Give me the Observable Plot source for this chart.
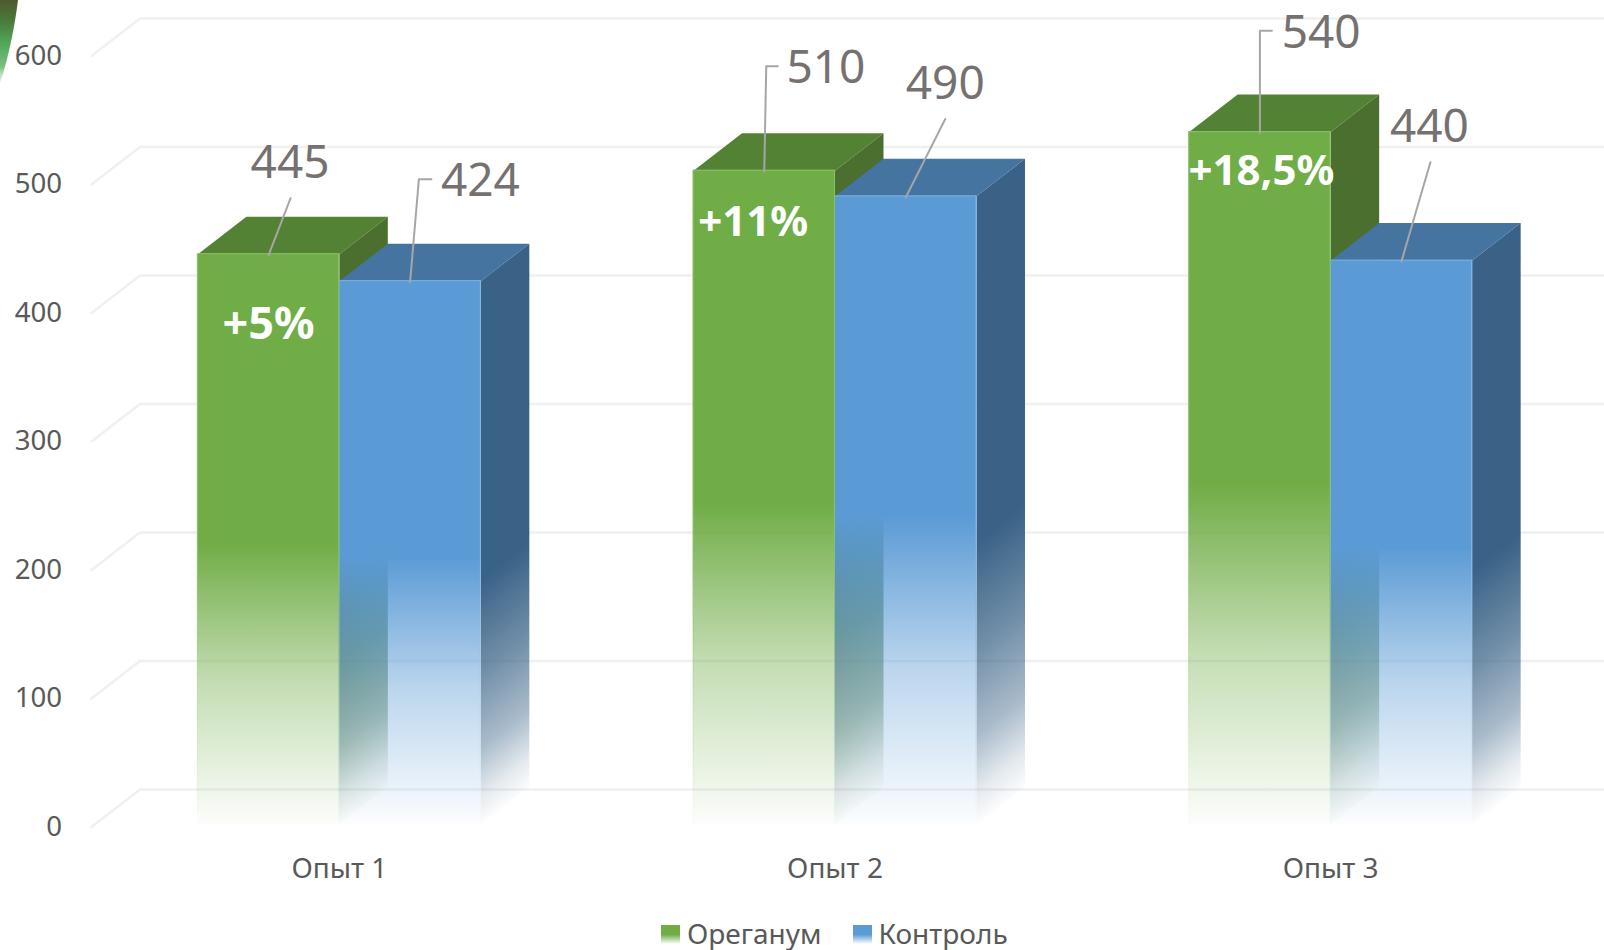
<!DOCTYPE html>
<html lang="ru"><head><meta charset="utf-8">
<script src="https://cdn.jsdelivr.net/npm/d3@7"></script>
<script src="https://cdn.jsdelivr.net/npm/@observablehq/plot@0.6"></script>
<style>
html,body{margin:0;padding:0;background:#fff;overflow:hidden;width:1604px;height:950px}
#chart svg{display:block;max-width:none}
#legend{display:flex;align-items:center;height:30px;padding-top:13px;margin-left:661px;font:28px/1 "Noto Sans",sans-serif;color:#595959}
#legend .sw{width:19px;height:19px;margin-right:7px;position:relative;top:1px}
#legend .item{display:flex;align-items:center;margin-right:31px}
#leaf{position:absolute;left:0;top:0}
</style></head><body>
<div id="chart"></div>
<div id="legend"></div>
<svg id="leaf" width="30" height="130" viewBox="0 0 30 130"><defs><linearGradient id="leafG" x1="0" y1="0" x2="0" y2="1">
<stop offset="0" stop-color="#4f5a30"/><stop offset=".25" stop-color="#4a7a3a"/><stop offset=".5" stop-color="#4fa556"/><stop offset=".8" stop-color="#7cc083"/><stop offset="1" stop-color="#d5ecd8" stop-opacity=".4"/></linearGradient></defs>
<path d="M0 0H18C15 25 9 55 0 84Z" fill="url(#leafG)"/></svg>
<script>
const categories = ["Опыт 1", "Опыт 2", "Опыт 3"];
const seriesNames = ["Ореганум", "Контроль"];
const oreganum = [445, 510, 540];
const control = [424, 490, 440];
const gains = ["+5%", "+11%", "+18,5%"];
const yTicks = [0, 100, 200, 300, 400, 500, 600];

// layout (pixels), separate from the values
const W = 1604, H = 905;
const left = 91, right = 1578, y0 = 826.5, y600 = 55.5;
const ux = (right - left) / 3, uy = (y0 - y600) / 600;
const px = p => p / ux, py = p => p / uy;
const barW = px(141.5), depthX = px(48.5), depthY = py(37.5);
const floorV = py(3), topShift = py(1);
const palette = [
  {front: "#70AD47", top: "#548235", side: "#4B6F2E", edge: "#8CC168"},
  {front: "#5B9BD5", top: "#4674A1", side: "#396286", edge: "#7FB3E2"}
];
const frontStops = [[0.51, 1], [0.75, 0.42], [1, 0.02]];
const sideStops = [[0.55, 1], [0.72, 0.72], [0.86, 0.43], [0.95, 0.13], [1, 0.02]];
// value label and leader placement relative to each bar's top centre (pixels)
const leaders = [
  [[[22, 57]], [[8.8, 103], [21.3, 103]]],
  [[[2, 105.5], [13.5, 105.5]], [[39.5, 78.4]]],
  [[[0, 102.4], [12, 102.4]], [[29, 99.4]]]
];
const labelOffsets = [
  [[21.5, 92], [70.3, 101]],
  [[61.6, 103.5], [39.5, 113]],
  [[61.2, 100.3], [28, 134]]
];
const gainOffsets = [[0, -69], [-11, -50.5], [1.5, -38]];
const gainSizes = [45, 42, 42];

const bars = [];
categories.forEach((c, i) => [oreganum, control].forEach((vals, s) => {
  const xl = i + 0.5 + (s - 1) * barW;
  bars.push({i, s, v: vals[i], xl, xr: xl + barW, top: vals[i] + topShift, id: `${i}-${s}`});
}));

const poly = pts => pts.map(([x, y]) => ({x, y}));
const faceTop = b => poly([[b.xl, b.top], [b.xl + depthX, b.top + depthY], [b.xr + depthX, b.top + depthY], [b.xr, b.top]]);
const faceSide = b => poly([[b.xr, b.top], [b.xr + depthX, b.top + depthY], [b.xr + depthX, floorV + depthY], [b.xr, floorV]]);

function gradientDefs(index, {x, y}) {
  const g = d3.create("svg:defs");
  const stops = (el, color, list) => list.forEach(([o, a]) =>
    el.append("stop").attr("offset", o).attr("stop-color", color).attr("stop-opacity", a));
  palette.forEach((p, s) => {
    const f = g.append("linearGradient").attr("id", `front-${s}`).attr("x1", 0).attr("y1", 0).attr("x2", 0).attr("y2", 1);
    stops(f, p.front, frontStops);
    const e = g.append("linearGradient").attr("id", `edge-${s}`).attr("x1", 0).attr("y1", 0).attr("x2", 0).attr("y2", 1);
    stops(e, p.edge, frontStops);
  });
  const k = -(depthY * uy) / (depthX * ux);
  bars.forEach(b => {
    const x0 = x(b.xr);
    const sg = g.append("linearGradient").attr("id", `side-${b.id}`).attr("gradientUnits", "userSpaceOnUse")
      .attr("x1", 0).attr("x2", 0).attr("y1", y(b.top)).attr("y2", y(floorV))
      .attr("gradientTransform", `matrix(1,${k},0,1,0,${-k * x0})`);
    stops(sg, palette[b.s].side, sideStops);
  });
  return g.node();
}

const gridLines = yTicks.flatMap(v => [
  {x: 0, y: v, v}, {x: depthX, y: v + depthY, v}, {x: 3.1, y: v + depthY, v}
]);

const groupMarks = categories.flatMap((c, i) => {
  const [g, b] = bars.filter(d => d.i === i);
  const shaded = d => [
    Plot.line(faceTop(d), {x: "x", y: "y", fill: palette[d.s].top, stroke: "none", curve: "linear-closed"}),
    Plot.line(faceSide(d), {x: "x", y: "y", fill: `url(#side-${d.id})`, stroke: "none", curve: "linear-closed"})
  ];
  const front = d => Plot.rect([d], {x1: "xl", x2: "xr", y1: floorV, y2: "top", fill: `url(#front-${d.s})`, stroke: `url(#edge-${d.s})`, strokeWidth: 1});
  return [...shaded(g), ...shaded(b), front(b), front(g)];
});

const leaderPts = bars.flatMap(b => {
  const cx = (b.xl + b.xr) / 2;
  return [{x: cx, y: b.v, id: b.id}, ...leaders[b.i][b.s].map(([dx, dy]) => ({x: cx + px(dx), y: b.v + py(dy), id: b.id}))];
});
const valueLabels = bars.map(b => {
  const [dx, dy] = labelOffsets[b.i][b.s];
  return {x: (b.xl + b.xr) / 2 + px(dx), y: b.v + py(dy), t: String(b.v)};
});
const gainLabels = gains.map((t, i) => {
  const b = bars.find(d => d.i === i && d.s === 0);
  return {x: (b.xl + b.xr) / 2 + px(gainOffsets[i][0]), y: b.v + py(gainOffsets[i][1]), t, size: gainSizes[i]};
});

const plot = Plot.plot({
  width: W, height: H,
  marginLeft: left, marginRight: W - right, marginTop: 20, marginBottom: H - y0,
  style: {fontFamily: "'Noto Sans', sans-serif", background: "transparent", overflow: "hidden"},
  x: {type: "linear", domain: [0, 3], range: [left, right]},
  y: {type: "linear", domain: [0, 600], range: [y0, y600]},
  marks: [
    gradientDefs,
    Plot.line(gridLines, {x: "x", y: "y", z: "v", stroke: "#F0F0F0", strokeWidth: 2.5}),
    Plot.axisY(yTicks, {anchor: "left", tickSize: 0, tickPadding: 29.5, fontSize: 27.6, fill: "#595959", label: null, tickFormat: d => String(d)}),
    Plot.axisX(categories.map((c, i) => i + 0.5), {anchor: "bottom", tickSize: 0, tickPadding: 31, fontSize: 28, fill: "#595959", label: null, tickFormat: d => categories[Math.floor(d)]}),
    ...groupMarks,
    Plot.line(leaderPts, {x: "x", y: "y", z: "id", stroke: "#A6A6A6", strokeWidth: 2}),
    Plot.text(valueLabels, {x: "x", y: "y", text: "t", fontSize: 46, fill: "#767171"}),
    ...gainLabels.map(d => Plot.text([d], {x: "x", y: "y", text: "t", fontSize: d.size, fontWeight: 700, fill: "#FFFFFF"}))
  ]
});
document.getElementById("chart").append(plot);

const legend = d3.select("#legend");
seriesNames.forEach((n, s) => {
  const it = legend.append("div").attr("class", "item");
  it.append("div").attr("class", "sw").style("background", `linear-gradient(${palette[s].front} 50%, #fff 100%)`);
  it.append("span").text(n);
});
</script></body></html>
